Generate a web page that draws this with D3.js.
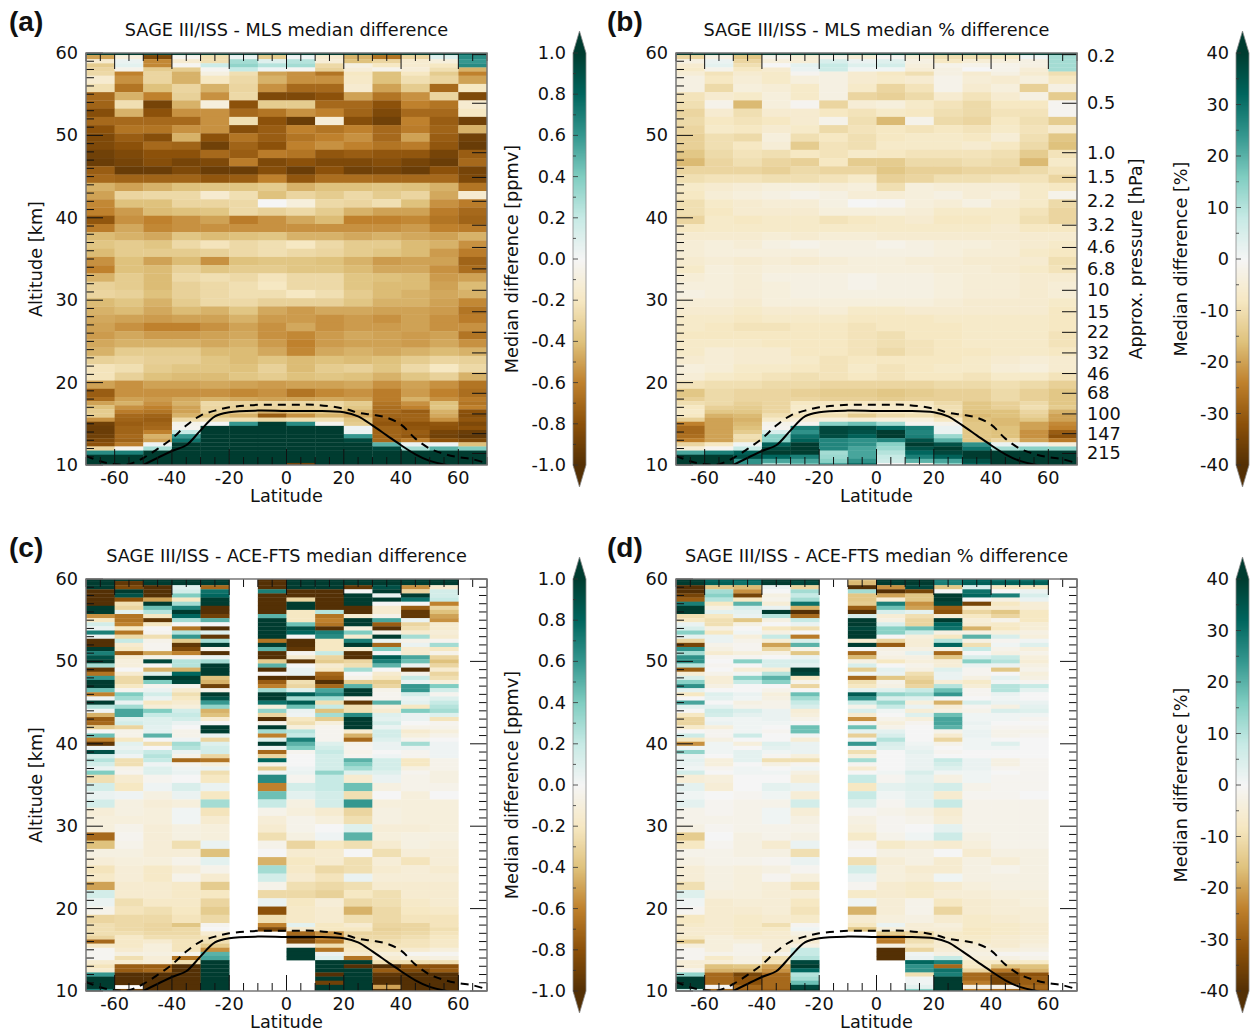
<!DOCTYPE html>
<html><head><meta charset="utf-8">
<script src="https://cdn.jsdelivr.net/npm/d3@7"></script>
<style>html,body{margin:0;padding:0;background:#fff}svg{display:block}text{font-family:"DejaVu Sans";fill:#111}</style>
</head><body><svg id="c" width="1250" height="1032"></svg>
<script>
const _=null;
const latEdgesMLS=[-70,-60,-50,-40,-30,-20,-10,0,10,20,30,40,50,60];
const latEdgesACE=[-70,-60,-50,-40,-30,-10,0,10,20,30,40,50];
const altMLS=[60,59.5,59,58.5,58,57.5,57,56,55,54,53,52,51,50,49,48,47,46,45,44,43,42,41,40,39,38,37,36,35,34,33,32,31,30,29,28,27,26,25,24,23,22,21,20,19,18,17.5,17,16.5,16,15.5,15,14.5,14,13.5,13,12.5,12,11.5,11,10.5,10];
const altACE=[60,59.5,59,58.5,58,57.5,57,56.5,56,55.5,55,54.5,54,53.5,53,52.5,52,51.5,51,50.5,50,49.5,49,48.5,48,47.5,47,46.5,46,45.5,45,44.5,44,43.5,43,42.5,42,41.5,41,40.5,40,39.5,39,38.5,38,37.5,37,36.5,36,35,34,33,32,31,30,29,28,27,26,25,24,23,22,21,20,19,18,17.5,17,16.5,16,15.5,15,14.5,14,13.5,13,12.5,12,11.5,11,10.5,10];
const diffMLS=[
[100,100,100,100,100,100,100,100,100,100,100,100,100,85],
[-50,-10,-85,-3,-25,5,-35,3,-15,-45,-65,-30,10,65],
[-15,5,-58,-15,-25,30,10,25,-12,-40,-30,-15,-10,60],
[-35,8,-58,-2,18,35,25,30,-28,-8,-20,-15,-20,65],
[-30,-5,-35,-35,-2,20,3,-2,-32,-12,-5,-12,-25,-45],
[-28,-60,-30,-45,-8,-25,-50,-55,-65,-20,-40,-20,-35,-60],
[-15,-55,-30,-45,-20,-28,-45,-55,-55,-18,-40,-25,-30,-50],
[-25,-65,-40,-30,-45,-30,-55,-70,-70,-15,-50,-35,-70,-20],
[-70,-45,-60,-32,-55,-28,-85,-85,-80,-50,-65,-55,-30,-85],
[-72,-25,-88,-45,-10,-80,-35,-35,-70,-70,-80,-60,-65,-15],
[-82,-45,-80,-55,-55,-70,-65,-55,-60,-72,-85,-70,-70,-20],
[-70,-70,-70,-70,-55,-25,-80,-92,-12,-82,-90,-60,-75,-90],
[-80,-65,-65,-55,-55,-82,-75,-60,-65,-60,-70,-62,-72,-45],
[-85,-75,-82,-45,-80,-65,-75,-65,-60,-55,-70,-50,-75,-90],
[-85,-80,-70,-72,-90,-72,-80,-60,-55,-60,-65,-62,-78,-93],
[-90,-85,-80,-80,-70,-75,-62,-65,-78,-75,-78,-78,-88,-75],
[-92,-88,-82,-88,-85,-62,-85,-80,-85,-85,-82,-88,-92,-70],
[-75,-93,-92,-85,-92,-92,-82,-92,-80,-90,-88,-92,-80,-88],
[-70,-72,-72,-72,-78,-75,-60,-78,-68,-68,-70,-70,-70,-85],
[-45,-50,-45,-40,-38,-38,-35,-45,-40,-40,-38,-40,-45,-65],
[-50,-30,-28,-28,-15,-25,-40,-30,-35,-28,-35,-30,-48,-15],
[-58,-40,-40,-30,-30,-28,0,-10,-28,-30,-25,-40,-55,-62],
[-60,-52,-42,-40,-38,-28,-32,-28,-35,-45,-50,-50,-62,-70],
[-78,-55,-60,-55,-50,-62,-55,-48,-42,-60,-60,-58,-65,-72],
[-62,-48,-58,-55,-55,-55,-55,-55,-55,-55,-55,-52,-60,-62],
[-42,-45,-48,-38,-42,-40,-38,-45,-45,-48,-45,-48,-50,-45],
[-38,-35,-38,-28,-22,-28,-25,-20,-28,-35,-35,-42,-45,-55],
[-42,-35,-35,-35,-32,-28,-25,-28,-30,-35,-38,-42,-52,-62],
[-55,-40,-50,-42,-55,-40,-38,-38,-40,-45,-52,-50,-50,-72],
[-60,-40,-42,-32,-38,-35,-35,-38,-38,-42,-48,-48,-55,-68],
[-45,-35,-42,-28,-25,-28,-22,-28,-28,-38,-40,-42,-52,-50],
[-32,-35,-42,-32,-28,-25,-20,-28,-28,-38,-42,-42,-50,-42],
[-30,-32,-40,-32,-28,-25,-25,-20,-25,-35,-42,-45,-48,-45],
[-42,-38,-45,-35,-28,-28,-32,-32,-32,-38,-45,-45,-50,-58],
[-45,-42,-48,-42,-45,-38,-48,-52,-48,-48,-50,-50,-52,-65],
[-48,-50,-52,-50,-50,-45,-52,-52,-55,-52,-55,-50,-55,-62],
[-50,-55,-60,-60,-55,-50,-55,-48,-55,-52,-52,-50,-55,-55],
[-52,-48,-52,-52,-50,-48,-55,-58,-52,-48,-50,-52,-50,-65],
[-48,-45,-45,-45,-48,-45,-52,-60,-52,-50,-50,-52,-48,-55],
[-45,-35,-35,-35,-42,-42,-48,-58,-48,-45,-48,-45,-42,-45],
[-32,-30,-33,-33,-38,-42,-38,-42,-40,-42,-40,-35,-30,-32],
[-22,-25,-35,-38,-38,-40,-32,-42,-35,-32,-38,-28,-20,-28],
[-22,-32,-40,-42,-42,-38,-35,-40,-38,-40,-45,-38,-32,-45],
[-50,-55,-50,-50,-48,-50,-52,-50,-50,-48,-55,-50,-55,-65],
[-75,-55,-55,-55,-55,-58,-55,-65,-58,-55,-62,-52,-60,-68],
[-68,-50,-52,-48,-45,-48,-50,-50,-48,-50,-62,-45,-55,-62],
[-50,-45,-55,-45,-28,-30,-28,-28,-28,-35,-65,-55,-40,-65],
[-40,-55,-60,-50,-30,-32,-30,-32,-30,-38,-68,-60,-38,-60],
[-35,-62,-65,-50,-32,-35,-45,-40,-38,-45,-70,-75,-45,-80],
[-35,-70,-72,-45,-40,-45,-75,-55,-45,-48,-72,-72,-48,-82],
[-55,-72,-75,-28,-25,-25,-28,-25,-25,-38,-75,-72,-55,-78],
[-90,-75,-72,-5,0,60,100,65,-3,-35,-78,-80,-78,-85],
[-92,-72,-70,-3,100,100,100,100,100,3,-72,-78,-80,-80],
[-92,-72,-60,20,100,100,100,100,100,5,-72,-75,-88,-92],
[-90,-70,-45,60,100,100,100,100,100,60,-72,-78,-90,-95],
[-85,-72,-50,75,100,100,100,100,100,95,-70,-62,-80,-85],
[-80,-62,3,100,100,100,100,100,100,100,50,5,3,-40],
[-30,-3,30,100,100,100,100,100,100,100,95,30,50,40],
[65,70,100,100,100,100,100,100,100,100,100,100,100,100],
[100,100,100,100,100,100,100,100,100,100,100,100,100,100],
[100,100,100,100,100,100,100,100,100,100,100,100,100,100],
[100,100,100,100,100,100,100,-90,100,100,100,100,100,100]];
const pctMLS=[
[85,100,90,85,100,100,100,100,100,80,80,80,80,75],
[-12,-3,-15,-2,-5,-2,-5,-1,-5,-10,-10,-8,1,12],
[-3,2,-12,-4,-5,5,2,4,-3,-8,-5,-4,-3,12],
[-6,3,-10,0,3,8,4,6,-4,-2,-2,-2,-3,12],
[-7,-2,-8,-6,2,7,1,1,-5,-3,0,-2,-5,12],
[-5,-9,-6,-7,-1,-3,-6,-8,-10,-3,-6,-3,-6,-10],
[-3,-8,-5,-7,-4,-3,-6,-7,-6,-2,-5,-6,-4,-8],
[-3,-11,-4,-5,-7,-3,-7,-12,-9,-2,-6,-4,-13,-3],
[-9,-6,-7,-4,-7,-3,-12,-13,-11,-6,-9,-6,-3,-14],
[-10,-2,-17,-4,-1,-12,-5,-4,-7,-9,-11,-8,-8,-1],
[-12,-6,-10,-6,-6,-8,-9,-7,-8,-10,-11,-9,-9,-1],
[-11,-8,-9,-8,-6,-2,-10,-17,-2,-11,-12,-8,-10,-14],
[-12,-7,-8,-6,-7,-11,-9,-8,-9,-8,-9,-7,-9,-6],
[-13,-10,-11,-4,-10,-8,-10,-8,-7,-7,-8,-5,-10,-15],
[-13,-10,-8,-5,-14,-9,-10,-7,-7,-7,-6,-8,-11,-16],
[-15,-11,-9,-10,-8,-9,-7,-8,-9,-9,-9,-10,-14,-9],
[-17,-12,-10,-12,-13,-8,-14,-14,-11,-11,-10,-11,-17,-7],
[-12,-12,-12,-13,-11,-12,-12,-15,-13,-13,-12,-12,-11,-9],
[-10,-9,-9,-10,-10,-9,-7,-13,-12,-10,-10,-9,-9,-12],
[-7,-6,-5,-4,-4,-5,-4,-10,-4,-5,-5,-5,-7,-8],
[-8,-5,-4,-3,-2,-3,-5,-5,-4,-3,-5,-4,-7,-2],
[-10,-7,-6,-5,-5,-3,0,-1,-4,-5,-3,-6,-7,-11],
[-10,-8,-6,-6,-6,-4,-4,-4,-5,-7,-7,-7,-9,-12],
[-12,-7,-8,-7,-7,-9,-8,-7,-6,-8,-8,-7,-10,-12],
[-8,-7,-7,-7,-7,-7,-7,-7,-7,-7,-7,-6,-8,-8],
[-6,-6,-6,-5,-6,-5,-5,-6,-6,-6,-6,-6,-6,-6],
[-5,-4,-5,-3,-2,-3,-3,-2,-3,-4,-4,-5,-6,-7],
[-5,-4,-4,-4,-4,-3,-3,-3,-3,-4,-5,-5,-7,-8],
[-6,-5,-6,-5,-6,-5,-4,-4,-5,-5,-6,-6,-6,-10],
[-7,-4,-5,-4,-4,-4,-4,-4,-4,-5,-5,-6,-7,-9],
[-5,-4,-5,-3,-3,-3,-2,-3,-3,-4,-5,-5,-6,-6],
[-4,-4,-5,-4,-3,-3,-2,-3,-3,-4,-5,-5,-6,-5],
[-3,-4,-5,-4,-3,-3,-3,-3,-3,-4,-5,-5,-6,-5],
[-5,-5,-6,-4,-4,-4,-4,-4,-4,-5,-6,-6,-6,-7],
[-6,-6,-7,-6,-6,-5,-7,-7,-6,-6,-6,-6,-6,-8],
[-7,-7,-8,-7,-7,-7,-8,-8,-8,-7,-7,-7,-7,-8],
[-7,-8,-9,-9,-8,-8,-9,-8,-8,-8,-7,-7,-7,-8],
[-8,-8,-8,-8,-8,-8,-9,-10,-8,-8,-7,-7,-7,-9],
[-7,-7,-7,-8,-8,-8,-9,-10,-9,-8,-7,-7,-7,-9],
[-7,-5,-6,-6,-8,-8,-9,-11,-9,-8,-8,-7,-7,-8],
[-6,-5,-6,-6,-7,-9,-8,-8,-8,-8,-7,-6,-5,-6],
[-4,-5,-7,-7,-8,-9,-7,-9,-8,-7,-7,-5,-4,-6],
[-5,-7,-8,-9,-10,-9,-8,-9,-8,-8,-9,-7,-7,-9],
[-9,-10,-10,-11,-11,-12,-12,-12,-12,-11,-11,-10,-11,-13],
[-15,-11,-12,-12,-13,-14,-14,-15,-14,-13,-13,-11,-13,-15],
[-13,-11,-12,-12,-12,-13,-13,-14,-13,-13,-13,-11,-13,-15],
[-10,-11,-13,-12,-8,-8,-8,-8,-8,-11,-15,-13,-11,-15],
[-8,-13,-14,-12,-7,-7,-6,-7,-7,-10,-15,-13,-10,-14],
[-7,-15,-15,-12,-7,-8,-9,-8,-8,-10,-16,-16,-12,-18],
[-8,-18,-17,-10,-9,-10,-14,-11,-10,-12,-17,-16,-13,-20],
[-13,-20,-18,-7,-5,-4,-5,-4,-4,-8,-16,-17,-15,-20],
[-24,-20,-17,-2,-1,15,18,12,-1,-2,-15,-17,-20,-23],
[-28,-20,-16,-1,28,38,37,32,28,2,-15,-16,-20,-24],
[-28,-20,-14,5,25,38,36,40,27,2,-15,-16,-22,-30],
[-27,-20,-10,15,30,37,33,40,28,13,-15,-16,-22,-32],
[-24,-20,-11,15,33,27,25,27,36,20,-15,-12,-20,-25],
[-12,-8,1,33,40,27,25,15,40,36,25,2,2,-4],
[-5,-1,8,38,42,27,22,13,36,42,30,12,15,15],
[22,28,33,42,42,12,22,10,32,38,42,42,42,42],
[42,42,36,32,28,13,22,8,28,33,42,42,42,42],
[42,42,25,22,22,15,25,7,20,22,36,42,42,42],
[42,42,25,12,18,22,30,0,-2,15,33,42,42,42]];
const diffACE=[
[100,100,100,100,100,-100,100,100,100,100,100,100],
[100,-95,100,100,100,-100,100,100,100,100,100,100],
[100,-85,-100,10,-70,-100,100,100,-95,90,-55,-15],
[-100,100,-100,15,75,70,-100,-100,0,100,-30,15],
[-100,90,-100,40,80,-100,-100,-100,100,5,100,15],
[-100,-80,-50,-20,100,-100,-30,-100,100,100,75,20],
[-100,-25,100,30,100,-100,100,-100,100,0,0,-60],
[100,-30,45,70,-100,-100,100,-100,-100,-15,-75,-30],
[100,8,25,100,-100,-100,-20,25,-100,-15,-95,-40],
[-55,-65,-20,80,-90,50,-20,-65,-15,-5,-95,-50],
[-20,-65,-95,30,50,100,-20,-60,100,55,5,-55],
[15,-60,-20,0,0,100,45,-65,100,-75,-30,-15],
[5,-20,0,-65,-100,100,90,-100,-10,-100,-25,-15],
[70,-65,-3,25,10,100,80,70,40,-5,-15,-12],
[5,-28,-25,60,-95,100,0,65,-15,100,30,-15],
[-100,20,-5,-35,30,-65,-100,-20,70,5,-5,-3],
[-100,-15,-3,-95,100,100,-100,-20,100,-70,5,30],
[100,-20,-3,-85,-5,50,-95,-20,-15,40,-15,-20],
[70,-75,-50,-60,-100,-100,-3,20,-100,0,-15,-5],
[90,-15,-5,-3,5,-100,-15,-30,-100,85,55,-30],
[100,-10,95,25,30,-35,-95,-35,-30,70,45,-40],
[30,-10,0,25,100,50,0,-15,-25,50,5,-30],
[-95,0,-45,-45,100,-100,5,-20,30,0,-100,-15],
[-65,-15,10,80,100,0,5,-70,0,-15,-5,-30],
[60,-28,100,100,-40,-100,-100,-75,-5,-20,20,-25],
[100,-28,40,95,-45,-75,-25,-100,-35,-35,5,-10],
[100,-20,-3,-3,-90,-60,-30,-70,50,-30,60,40],
[45,-3,5,-15,-5,30,10,55,100,-5,60,15],
[-60,40,15,-25,100,100,85,65,100,-3,15,-3],
[3,30,5,-20,90,100,30,30,-5,-3,5,10],
[100,5,-20,-15,60,75,85,-25,-95,50,8,20],
[25,30,-12,-10,35,-10,45,20,-25,-10,-20,25],
[2,55,40,15,-45,35,5,-40,-25,-15,40,30],
[-45,55,20,20,-40,-30,3,30,65,10,5,10],
[-75,10,10,15,-15,-100,-20,-35,100,8,5,-22],
[-70,15,10,5,0,-5,-25,-10,100,15,0,-3],
[-35,-30,8,0,100,100,-10,-3,100,5,-5,-5],
[0,-5,8,-5,100,30,25,-3,-15,15,-15,-10],
[45,-5,50,-5,5,-60,20,-3,-45,15,-10,-5],
[-60,-20,0,3,-30,10,70,-3,-70,10,-3,0],
[-95,8,-25,30,10,100,50,10,-5,5,30,3],
[3,5,0,25,15,3,40,15,-3,5,5,3],
[90,10,20,5,15,-70,-3,20,-5,0,-3,3],
[15,3,25,-5,-30,-30,0,15,-3,3,-3,3],
[25,-25,20,-70,-65,80,0,15,50,15,-20,-5],
[15,-25,3,-3,-10,-5,0,15,40,15,-20,-5],
[5,-5,10,3,5,-35,3,15,30,15,-8,-5],
[40,-3,10,5,-25,3,5,35,10,10,-3,-8],
[-25,-15,-3,0,-20,65,-3,20,-15,5,-5,-8],
[15,-20,3,12,5,-60,15,20,45,-8,-5,-5],
[5,3,-8,5,-20,45,8,15,-25,0,-10,0],
[15,-8,-12,-10,30,20,-8,15,60,-10,-10,-10],
[-12,-8,-10,2,-22,-5,-10,-15,-30,-8,-10,-10],
[-10,-10,-10,2,-15,-12,-5,-10,-25,-8,-10,-10],
[-10,-5,-12,-8,-10,-15,-5,0,10,-12,-12,-10],
[-70,-3,-12,-8,-10,-25,-8,3,50,-10,-8,-8],
[-40,-5,-12,-25,5,-5,-30,-20,-25,-15,-8,-10],
[-8,-8,-12,-12,-40,0,-15,-15,0,-25,-12,-12],
[-12,-10,-10,-5,8,-45,-20,-15,-25,-12,-22,-12],
[-22,-12,-18,-12,-5,30,-18,-28,-25,-15,-12,-15],
[-18,-12,-18,-5,-15,15,-15,-22,5,-12,-12,-12],
[-50,-15,-15,-18,-35,-5,-25,-28,-25,-15,-15,-15],
[15,-15,-15,-18,-20,-28,-28,-32,-20,-25,-15,-15],
[5,-25,-18,-18,-30,5,-20,-12,-28,-25,-18,-15],
[-5,-22,-25,-20,-35,-80,-18,-15,-45,-28,-20,-18],
[-30,-28,-28,-22,-28,-25,-18,-15,-25,-28,-22,-22],
[-25,-28,-30,-38,-3,-60,8,-20,-15,-30,-30,-22],
[-25,-28,-30,-28,0,-85,-15,-20,-20,-32,-30,-25],
[-25,-25,-28,-28,-15,_,-70,-55,-30,-30,-28,-22],
[-30,-18,-25,-25,-22,_,-95,-60,-28,-28,-25,-20],
[-70,-18,-15,-22,-25,_,-85,-65,-25,-25,-22,-18],
[-18,-18,-10,-22,-35,_,-5,-25,-22,-22,-22,-18],
[-2,-15,-10,-22,-55,_,100,-65,-20,-20,-15,-10],
[-2,-8,-8,-5,50,_,100,5,-15,-10,-2,-2],
[-2,-25,-12,-65,55,_,100,10,-65,-15,-10,-8],
[-15,-15,-12,-25,100,_,_,100,100,-25,-25,-25],
[-22,-75,-75,-100,100,_,_,100,-100,-100,-80,-80],
[-15,-75,-70,-100,100,_,_,100,100,-75,-85,-75],
[60,-100,-100,-100,100,_,_,-100,100,-95,-100,-100],
[100,-100,-100,-100,100,_,_,100,100,-100,-100,-100],
[100,-100,-100,-100,100,_,_,-90,100,-100,-100,-100],
[100,_,-100,-100,100,_,_,100,100,-50,-100,-100],
[70,-90,-100,-100,100,_,_,100,100,-100,-100,-100]];
const pctACE=[
[40,32,32,40,40,-15,40,40,28,32,30,30],
[40,33,30,40,38,-17,40,40,28,33,33,33],
[-40,-15,-17,2,-12,-42,-22,38,-15,5,-8,-8],
[-42,12,-22,0,12,12,-42,-35,0,30,0,2],
[-35,15,-35,-3,8,-15,-20,-15,40,32,28,5],
[-30,10,-8,-2,12,-15,-5,-15,40,0,-3,2],
[28,-8,20,-5,30,-14,28,-22,38,-35,-8,-5],
[40,-3,5,2,-18,-30,18,-20,-30,-7,-6,-5],
[40,3,3,42,-42,-42,5,3,-32,-12,-15,-8],
[-10,-8,2,10,-28,5,-5,-10,-5,-8,-12,-8],
[-8,-10,-15,-3,8,42,-3,-12,42,-5,-2,-8],
[2,-10,-3,0,2,42,5,-12,32,-6,-7,-5],
[5,-3,0,-8,-10,38,15,18,30,-18,-8,-5],
[15,-8,1,-3,0,42,15,8,-3,-3,-4,-3],
[3,2,-4,8,-25,42,0,-4,-8,20,5,-4],
[-12,2,-2,-5,5,-6,-12,-5,10,-3,-1,1],
[-35,-2,-1,-20,20,42,-30,-5,32,-10,1,4],
[25,-3,-1,-12,-2,0,-3,-3,-3,8,-2,-4],
[12,-6,-4,-3,-15,-28,-2,3,-28,0,-3,-2],
[25,-1,-1,0,2,-17,-3,-3,-15,5,8,-4],
[25,0,15,5,5,-3,-8,-4,-5,15,10,-5],
[10,-1,0,5,3,5,0,-2,-5,2,2,-3],
[-30,0,-5,-5,42,-14,3,-3,4,-1,-15,-2],
[-5,-2,1,10,38,1,2,-10,2,-1,0,-4],
[5,-5,15,20,-8,-28,-15,-12,2,-3,3,-3],
[15,-5,8,15,-2,-10,-2,-14,-5,-7,1,-1],
[25,-3,0,0,-12,-8,-3,-12,10,-5,10,8],
[3,0,0,-2,0,3,4,8,18,-1,10,3],
[-8,4,2,-4,18,34,14,12,24,-1,2,0],
[0,3,1,-3,12,25,5,4,0,0,1,0],
[22,0,-3,-2,8,8,13,-4,-18,5,2,2],
[3,3,-2,-2,5,-2,8,2,-5,-1,-3,3],
[0,7,5,2,-5,5,1,-5,-3,-2,5,4],
[-8,6,3,2,-4,-6,0,4,18,1,1,1],
[-12,1,1,2,-2,-22,-2,-4,22,1,1,-1],
[-12,2,1,1,0,-1,-4,-1,22,2,0,0],
[-7,-4,1,0,18,18,-2,0,20,1,-1,-1],
[0,-1,1,-1,18,3,3,0,-2,2,-2,-2],
[7,-1,7,0,1,-13,5,0,-6,2,-2,-1],
[-8,-3,0,0,-5,1,10,0,-12,1,0,0],
[-22,1,-4,4,2,24,5,1,-2,1,4,0],
[1,1,0,3,2,1,4,2,0,1,1,0],
[14,1,3,1,2,-10,0,3,-1,0,0,0],
[2,0,3,-1,-4,-4,0,2,0,0,0,0],
[3,-4,3,-10,-10,12,0,2,8,2,-3,-1],
[2,-4,0,-3,-1,-1,0,2,6,2,-3,-1],
[1,-1,1,0,1,-6,0,2,4,2,-1,-1],
[6,0,1,1,-3,0,1,5,1,1,0,-1],
[-5,-4,0,0,-5,8,-1,3,-3,1,-1,-1],
[3,-5,0,3,2,-8,3,4,6,-2,-1,-1],
[1,0,-1,1,-5,8,1,3,-6,-1,-1,0],
[3,-1,-2,-2,6,4,-1,3,8,-2,-2,-2],
[-2,-1,-2,1,-5,-1,-2,-3,-6,-2,-2,-2],
[-2,-2,-2,1,-3,-3,-1,-2,-5,-2,-2,-2],
[-3,-1,-2,-2,-2,-4,-1,0,3,-2,-2,-2],
[-14,0,-3,-2,-3,-7,-2,1,7,-3,-2,-2],
[-8,-1,-3,-6,2,-1,-7,-5,-6,-4,-2,-2],
[-2,-2,-3,-3,-10,0,-3,-3,0,-6,-3,-3],
[-3,-2,-2,-1,2,-10,-5,-3,-6,-3,-5,-3],
[-5,-3,-4,-3,-1,6,-4,-6,-6,-3,-2,-3],
[-5,-3,-4,-1,-4,2,-4,-5,1,-3,-3,-3],
[-10,-3,-4,-5,-9,-1,-6,-7,-6,-4,-3,-3],
[4,-4,-4,-5,-5,-7,-6,-7,-5,-5,-4,-4],
[1,-6,-5,-5,-8,1,-5,-2,-8,-6,-5,-4],
[-1,-6,-6,-5,-9,-18,-5,-2,-12,-6,-5,-5],
[-8,-6,-7,-6,-7,-6,-4,-3,-6,-7,-6,-5],
[-7,-6,-7,-10,-1,-8,2,-5,-4,-7,-7,-6],
[-6,-6,-7,-7,1,-15,-4,-5,-5,-8,-7,-6],
[-6,-6,-7,-6,-3,_,-14,-12,-7,-8,-7,-6],
[-7,-4,-6,-6,-5,_,-25,-13,-7,-7,-6,-5],
[-14,-4,-4,-5,-6,_,-25,-10,-6,-7,-6,-5],
[-4,-4,-2,-5,-3,_,-3,-7,-6,-5,-6,-4],
[-1,-4,-2,-5,8,_,-42,-12,-5,-4,-4,-3],
[-1,-2,-2,-2,8,_,-42,1,-3,-3,-1,-1],
[-1,-7,-3,-10,10,_,-42,2,8,-4,-3,-2],
[-5,-5,-3,-9,38,_,_,32,28,-7,-7,-7],
[-5,-16,-15,-20,40,_,_,25,-28,-8,-16,-16],
[-2,-18,-18,-22,32,_,_,25,30,-12,-25,-18],
[14,-28,-35,-28,10,_,_,-10,28,-28,-35,-32],
[40,-28,-32,-28,12,_,_,1,42,-28,-35,-30],
[40,-28,-32,-28,18,_,_,1,42,-25,-35,-30],
[40,0,-28,-28,38,_,_,3,42,-3,-2,-28],
[8,-28,-30,-30,42,_,_,15,42,-25,-28,-30]];
const solidLat=[-50,-40,-35,-30,-25,-20,-10,0,10,20,25,30,35,40,45,50,55,57];
const solidAlt=[10,11.7,12.4,14.2,15.9,16.4,16.6,16.55,16.55,16.4,15.9,14.8,13.6,12.4,11.3,10.5,10.05,9.95];
const dashLat=[-70,-65,-60,-55,-50,-45,-40,-35,-30,-25,-20,-10,0,10,20,25,30,35,40,45,50,55,60,65,70];
const dashAlt=[11.1,10.45,10.1,10.1,10.85,11.95,13.2,14.8,16,16.6,17,17.3,17.3,17.3,16.85,16.35,16.1,15.75,14.9,13.2,12,11.35,10.95,10.7,10.2];
const pressureLabels=["0.2","0.5","1.0","1.5","2.2","3.2","4.6","6.8","10","15","22","32","46","68","100","147","215"];
const pressureAlts=[59.8,53.9,47.9,44.9,42,39.1,36.4,33.8,31.2,28.6,26.1,23.6,21.1,18.7,16.2,13.8,11.4];
const altTicks=[10,20,30,40,50,60];
const latTicks=[-60,-40,-20,0,20,40,60];
const brbg=["#543005","#8c510a","#bf812d","#dfc27d","#f6e8c3","#f5f5f5","#c7eae5","#80cdc1","#35978f","#01665e","#003c30"];
const hy=f=>v=>f(v).replace("\u2212","-");
const panels=[
 {id:"(a)",idX:9,title:"SAGE III/ISS - MLS median difference",x0:86,y0:53,rows:diffMLS,alts:altMLS,lats:latEdgesMLS,max:100,ticks:[-1,-.8,-.6,-.4,-.2,0,.2,.4,.6,.8,1],fmt:hy(d3.format(".1f")),cb:"Median difference [ppmv]",cbMax:1,cbX:573,labX:566,titX:512,mls:true,bLab:false},
 {id:"(b)",idX:607,title:"SAGE III/ISS - MLS median % difference",x0:676,y0:53,rows:pctMLS,alts:altMLS,lats:latEdgesMLS,max:40,ticks:[-40,-30,-20,-10,0,10,20,30,40],fmt:hy(d3.format("d")),cb:"Median difference [%]",cbMax:40,cbX:1236,labX:1229,titX:1181,mls:true,bLab:true},
 {id:"(c)",idX:9,title:"SAGE III/ISS - ACE-FTS median difference",x0:86,y0:579,rows:diffACE,alts:altACE,lats:latEdgesACE,max:100,ticks:[-1,-.8,-.6,-.4,-.2,0,.2,.4,.6,.8,1],fmt:hy(d3.format(".1f")),cb:"Median difference [ppmv]",cbMax:1,cbX:573,labX:566,titX:512,mls:false},
 {id:"(d)",idX:607,title:"SAGE III/ISS - ACE-FTS median % difference",x0:676,y0:579,rows:pctACE,alts:altACE,lats:latEdgesACE,max:40,ticks:[-40,-30,-20,-10,0,10,20,30,40],fmt:hy(d3.format("d")),cb:"Median difference [%]",cbMax:40,cbX:1236,labX:1229,titX:1181,mls:false}];
const W=401,H=412,FS=17.7;
const svg=d3.select("#c");
panels.forEach((p,pi)=>{
 const x=d3.scaleLinear([-70,70],[p.x0,p.x0+W]);
 const y=d3.scaleLinear([10,60],[p.y0+H,p.y0]);
 const col=d3.scaleLinear().domain(d3.range(11).map(i=>-p.max+i*p.max/5)).range(brbg).clamp(true);
 const g=svg.append("g");
 svg.append("clipPath").attr("id","cl"+pi).append("rect").attr("x",p.x0).attr("y",p.y0).attr("width",W).attr("height",H);
 const cells=g.append("g").attr("clip-path",`url(#cl${pi})`);
 p.rows.forEach((r,ri)=>{
  const top=y(p.alts[ri]+.25), bot=y(ri+1<p.alts.length?p.alts[ri+1]+.25:9.75);
  r.forEach((v,ci)=>{
   if(v===null)return;
   const lat=p.lats[ci];
   cells.append("rect").attr("x",x(lat)).attr("y",top).attr("width",x(lat+10)-x(lat)+.3).attr("height",bot-top+.3).attr("fill",col(v));
  });
 });
 const lineS=d3.line().x((d,i)=>x(solidLat[i])).y((d,i)=>y(solidAlt[i])).curve(d3.curveCatmullRom);
 const lineD=d3.line().x((d,i)=>x(dashLat[i])).y((d,i)=>y(dashAlt[i])).curve(d3.curveCatmullRom);
 cells.append("path").attr("d",lineS(solidLat)).attr("fill","none").attr("stroke","#000").attr("stroke-width",2);
 cells.append("path").attr("d",lineD(dashLat)).attr("fill","none").attr("stroke","#000").attr("stroke-width",2).attr("stroke-dasharray","8 6");
 const tk=g.append("g").attr("stroke","#111").attr("stroke-width",1);
 const L=(a,b,c,d)=>tk.append("line").attr("x1",a).attr("y1",b).attr("x2",c).attr("y2",d);
 d3.range(10,61).forEach(a=>{
  const maj=a%10===0, yy=y(a);
  L(p.x0,yy,p.x0+(maj?17:8),yy);
  if(!p.mls) L(p.x0+W,yy,p.x0+W-(maj?17:8),yy);
 });
 d3.range(-70,71,5).forEach(l=>{
  const maj=l%20===0, xx=x(l);
  L(xx,p.y0+H,xx,p.y0+H-(maj?16:8));
  L(xx,p.y0,xx,p.y0+(maj?16:8));
 });
 if(p.mls) pressureAlts.forEach(a=>L(p.x0+W,y(a),p.x0+W-15,y(a)));
 g.append("rect").attr("x",p.x0).attr("y",p.y0).attr("width",W).attr("height",H).attr("fill","none").attr("stroke","#777").attr("stroke-width",1.5);
 const T=(s,xx,yy,a)=>g.append("text").text(s).attr("x",xx).attr("y",yy).attr("text-anchor",a||"middle").attr("font-size",FS);
 altTicks.forEach(a=>T(a,p.x0-8,y(a)+6,"end"));
 latTicks.forEach(l=>T(l,x(l),p.y0+H+19));
 T("Latitude",x(0),p.y0+H+37);
 T(p.title,p.x0+W/2,p.y0-17);
 g.append("text").text(p.id).attr("x",p.idX).attr("y",p.y0-22).attr("font-size",28).attr("font-weight","bold").style("font-family","Liberation Sans");
 if(!(pi%2)) g.append("text").text("Altitude [km]").attr("transform",`translate(${p.x0-44},${p.y0+H/2}) rotate(-90)`).attr("text-anchor","middle").attr("font-size",FS);
 if(p.bLab){
  pressureAlts.forEach((a,i)=>T(pressureLabels[i],p.x0+W+10,y(a)+6-(i===0?-1:0),"start"));
  g.append("text").text("Approx. pressure [hPa]").attr("transform",`translate(1142,${p.y0+H/2}) rotate(-90)`).attr("text-anchor","middle").attr("font-size",FS);
 }
 const cbW=13, cs=d3.scaleLinear([-p.cbMax,p.cbMax],[p.y0+H,p.y0]);
 const cg=g.append("g");
 d3.range(0,H).forEach(i=>{
  const f=(i+.5)/H;
  cg.append("rect").attr("x",p.cbX).attr("y",p.y0+H-i-1).attr("width",cbW).attr("height",1.3).attr("fill",col(-p.max+2*p.max*f));
 });
 const m=p.cbX+cbW/2;
 cg.append("path").attr("d",`M${p.cbX},${p.y0}L${m},${p.y0-22}L${p.cbX+cbW},${p.y0}Z`).attr("fill","#003c30");
 cg.append("path").attr("d",`M${p.cbX},${p.y0+H}L${m},${p.y0+H+22}L${p.cbX+cbW},${p.y0+H}Z`).attr("fill","#543005");
 cg.append("path").attr("d",`M${p.cbX},${p.y0}L${m},${p.y0-22}L${p.cbX+cbW},${p.y0}V${p.y0+H}L${m},${p.y0+H+22}L${p.cbX},${p.y0+H}Z`).attr("fill","none").attr("stroke","#888").attr("stroke-width",.8);
 const step=p.ticks[1]-p.ticks[0];
 d3.range(0,2*(p.ticks.length-1)+1).forEach(k=>{
  const v=p.ticks[0]+k*step/2;
  cg.append("line").attr("x1",p.cbX).attr("x2",p.cbX+(k%2?3:5)).attr("y1",cs(v)).attr("y2",cs(v)).attr("stroke","#333").attr("stroke-width",.8);
 });
 p.ticks.forEach(v=>{T(p.fmt(v),p.labX,cs(v)+6,"end")});
 g.append("text").text(p.cb).attr("transform",`translate(${p.titX+6},${p.y0+H/2}) rotate(-90)`).attr("text-anchor","middle").attr("font-size",FS);
});
</script></body></html>
